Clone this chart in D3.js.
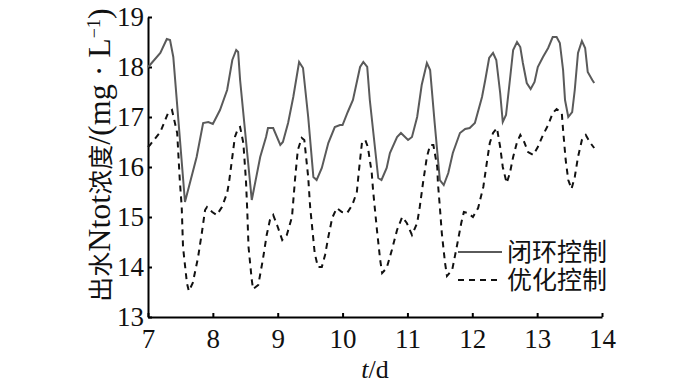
<!DOCTYPE html>
<html>
<head>
<meta charset="utf-8">
<script src="https://cdn.jsdelivr.net/npm/d3@7"></script>
<style>
  body { margin: 0; background: #fff; }
</style>
</head>
<body>
<div id="chart"></div>
<script>
// closed-loop control (solid grey)
var closedT = [7.0, 7.03, 7.19, 7.29, 7.34, 7.39, 7.57, 7.75, 7.85, 7.93, 8.0, 8.11, 8.22, 8.3, 8.36, 8.39, 8.42, 8.6,
  8.73, 8.82, 8.85, 8.93, 9.04, 9.08, 9.16, 9.24, 9.33, 9.39, 9.47, 9.55, 9.6, 9.68, 9.78, 9.88, 9.96, 10.0, 10.08,
  10.16, 10.27, 10.32, 10.38, 10.42, 10.55, 10.6, 10.68, 10.73, 10.84, 10.9, 11.01, 11.07, 11.15, 11.22, 11.3, 11.35,
  11.42, 11.5, 11.56, 11.63, 11.7, 11.81, 11.89, 11.96, 12.04, 12.15, 12.2, 12.26, 12.32, 12.37, 12.43, 12.47, 12.52,
  12.58, 12.63, 12.69, 12.74, 12.78, 12.84, 12.9, 12.96, 13.01, 13.09, 13.17, 13.24, 13.3, 13.35, 13.4, 13.43, 13.48,
  13.54, 13.58, 13.63, 13.69, 13.74, 13.78, 13.85, 13.88];
var closedV = [18.0, 18.04, 18.28, 18.56, 18.54, 18.2, 15.3, 16.2, 16.88, 16.9, 16.86, 17.14, 17.54, 18.14, 18.34, 18.3, 17.74, 15.34,
  16.2, 16.6, 16.78, 16.78, 16.44, 16.5, 16.88, 17.4, 18.1, 17.98, 17.0, 15.8, 15.74, 15.98, 16.48, 16.8, 16.84, 16.84, 17.1,
  17.34, 18.0, 18.1, 18.0, 17.34, 15.78, 15.74, 15.98, 16.28, 16.6, 16.68, 16.54, 16.6, 17.0, 17.64, 18.08, 17.94,
  16.88, 15.74, 15.64, 15.88, 16.28, 16.68, 16.76, 16.78, 16.88, 17.4, 17.74, 18.18, 18.28, 18.14, 17.48, 16.9, 17.04,
  17.74, 18.34, 18.5, 18.4, 18.08, 17.68, 17.56, 17.7, 18.0, 18.2, 18.38, 18.6, 18.6, 18.48, 17.94, 17.34, 17.0,
  17.1, 17.54, 18.28, 18.52, 18.38, 17.9, 17.74, 17.68];

// optimised control (dashed black)
var optT = [7.0, 7.03, 7.19, 7.31, 7.37, 7.45, 7.49, 7.52, 7.54, 7.6, 7.63, 7.69, 7.77, 7.83, 7.88, 7.91, 7.99, 8.06, 8.14,
  8.22, 8.25, 8.3, 8.34, 8.39, 8.42, 8.47, 8.51, 8.53, 8.55, 8.6, 8.62, 8.7, 8.77, 8.83, 8.88, 8.93, 8.99, 9.07, 9.14,
  9.22, 9.25, 9.27, 9.31, 9.37, 9.41, 9.47, 9.5, 9.54, 9.57, 9.62, 9.68, 9.73, 9.78, 9.84, 9.91, 9.99, 10.07, 10.15,
  10.22, 10.25, 10.3, 10.35, 10.39, 10.45, 10.47, 10.53, 10.58, 10.61, 10.68, 10.76, 10.84, 10.92, 10.99, 11.07, 11.15,
  11.19, 11.24, 11.3, 11.35, 11.4, 11.46, 11.47, 11.5, 11.53, 11.58, 11.61, 11.69, 11.76, 11.83, 11.87, 11.93, 12.01,
  12.09, 12.17, 12.23, 12.27, 12.32, 12.38, 12.43, 12.47, 12.53, 12.58, 12.63, 12.69, 12.74, 12.8, 12.86, 12.94, 13.01,
  13.09, 13.17, 13.24, 13.3, 13.38, 13.4, 13.44, 13.48, 13.53, 13.58, 13.63, 13.69, 13.75, 13.81, 13.88];
var optV = [16.4, 16.44, 16.7, 17.08, 17.14, 16.68, 15.74, 15.2, 14.4, 13.68, 13.52, 13.68, 14.18, 14.68, 15.14, 15.2, 15.1, 15.04, 15.2,
  15.48, 15.7, 16.2, 16.6, 16.78, 16.8, 16.48, 15.74, 15.14, 14.4, 13.74, 13.56, 13.64, 14.14, 14.64, 14.94, 15.04, 14.84, 14.54, 14.64,
  15.0, 15.48, 15.8, 16.34, 16.58, 16.54, 15.8, 15.2, 14.68, 14.28, 14.0, 14.0, 14.24, 14.6, 14.98, 15.18, 15.1, 15.08, 15.24,
  15.5, 15.9, 16.5, 16.54, 16.4, 15.88, 15.54, 14.74, 14.14, 13.88, 13.98, 14.34, 14.74, 15.0, 14.88, 14.64, 14.88,
  15.2, 15.68, 16.2, 16.44, 16.44, 16.0, 15.68, 15.2, 14.68, 14.08, 13.82, 13.94, 14.4, 14.88, 15.1, 15.08, 15.0,
  15.18, 15.6, 16.14, 16.48, 16.68, 16.78, 16.4, 16.0, 15.68, 15.88, 16.2, 16.5, 16.64, 16.5, 16.3, 16.24, 16.4,
  16.64, 16.84, 17.08, 17.16, 17.08, 16.74, 16.14, 15.74, 15.56, 15.8, 16.2, 16.54, 16.64, 16.5, 16.38];

var xTicks = [7, 8, 9, 10, 11, 12, 13, 14];
var yTicks = [13, 14, 15, 16, 17, 18, 19];
var seriesNames = ['闭环控制', '优化控制'];

var svgWidth = 700, svgHeight = 385;
var margin = { top: 17, right: 98, bottom: 68, left: 148 };
var width = svgWidth - margin.left - margin.right;
var height = svgHeight - margin.top - margin.bottom;

var latin = 'Liberation Serif, Times New Roman, serif';
var cjk = 'Noto Sans CJK SC, sans-serif';

var svg = d3.select('#chart')
    .append('svg')
    .attr('width', svgWidth)
    .attr('height', svgHeight);

var chartGroup = svg.append('g')
    .attr('transform', `translate(${margin.left}, ${margin.top})`);

var xScale = d3.scaleLinear().domain([7, 14]).range([0, width]);
var yScale = d3.scaleLinear().domain([13, 19]).range([height, 0]);

var xAxis = d3.axisBottom(xScale).tickValues(xTicks).tickFormat(d3.format('d'))
    .tickSizeInner(-4).tickSizeOuter(0).tickPadding(12);
var yAxis = d3.axisLeft(yScale).tickValues(yTicks).tickFormat(d3.format('d'))
    .tickSizeInner(-4).tickSizeOuter(0).tickPadding(4);

var gx = chartGroup.append('g')
    .attr('transform', `translate(0, ${height})`)
    .call(xAxis);
var gy = chartGroup.append('g')
    .call(yAxis);

[gx, gy].forEach(function(g) {
    g.select('.domain').attr('stroke', '#000').attr('stroke-width', 2);
    g.selectAll('.tick line').attr('stroke', '#000').attr('stroke-width', 2);
    g.selectAll('.tick text')
        .attr('fill', '#111')
        .style('font-family', latin)
        .style('font-size', '27px');
});

var line = d3.line()
    .x(d => xScale(d[0]))
    .y(d => yScale(d[1]));

chartGroup.append('path')
    .datum(closedT.map((t, i) => [t, closedV[i]]))
    .attr('d', line)
    .attr('fill', 'none')
    .attr('stroke', '#5a5a5a')
    .attr('stroke-width', 2);

chartGroup.append('path')
    .datum(optT.map((t, i) => [t, optV[i]]))
    .attr('d', line)
    .attr('fill', 'none')
    .attr('stroke', '#111')
    .attr('stroke-width', 2)
    .attr('stroke-dasharray', '6,5');

// legend
var legend = svg.append('g').attr('transform', 'translate(458, 252)');
seriesNames.forEach(function(name, i) {
    var row = legend.append('g').attr('transform', `translate(0, ${i * 28})`);
    row.append('line')
        .attr('x1', 0).attr('x2', 44).attr('y1', 0).attr('y2', 0)
        .attr('stroke', i === 0 ? '#5a5a5a' : '#111')
        .attr('stroke-width', 2)
        .attr('stroke-dasharray', i === 0 ? null : '6,5');
    row.append('text')
        .attr('x', 49).attr('y', 0).attr('dy', '0.36em')
        .style('font-family', cjk)
        .style('font-size', '25px')
        .attr('fill', '#111')
        .text(name);
});

// axis titles
var xTitle = svg.append('text')
    .attr('x', margin.left + width / 2)
    .attr('y', 378)
    .attr('text-anchor', 'middle')
    .style('font-family', latin)
    .style('font-size', '26px')
    .attr('fill', '#111');
xTitle.append('tspan').style('font-style', 'italic').text('t');
xTitle.append('tspan').text('/d');

var yTitle = svg.append('text')
    .attr('transform', 'translate(110, 155) rotate(-90)')
    .attr('text-anchor', 'middle')
    .style('font-family', latin)
    .style('font-size', '32px')
    .attr('fill', '#111');
yTitle.append('tspan').style('font-family', cjk).style('font-size', '25px').text('出水');
yTitle.append('tspan').text('Ntot');
yTitle.append('tspan').style('font-family', cjk).style('font-size', '25px').text('浓度');
yTitle.append('tspan').text('/(mg · L');
yTitle.append('tspan').attr('baseline-shift', 'super').style('font-size', '18px').text('−1');
yTitle.append('tspan').text(')');
</script>
</body>
</html>
